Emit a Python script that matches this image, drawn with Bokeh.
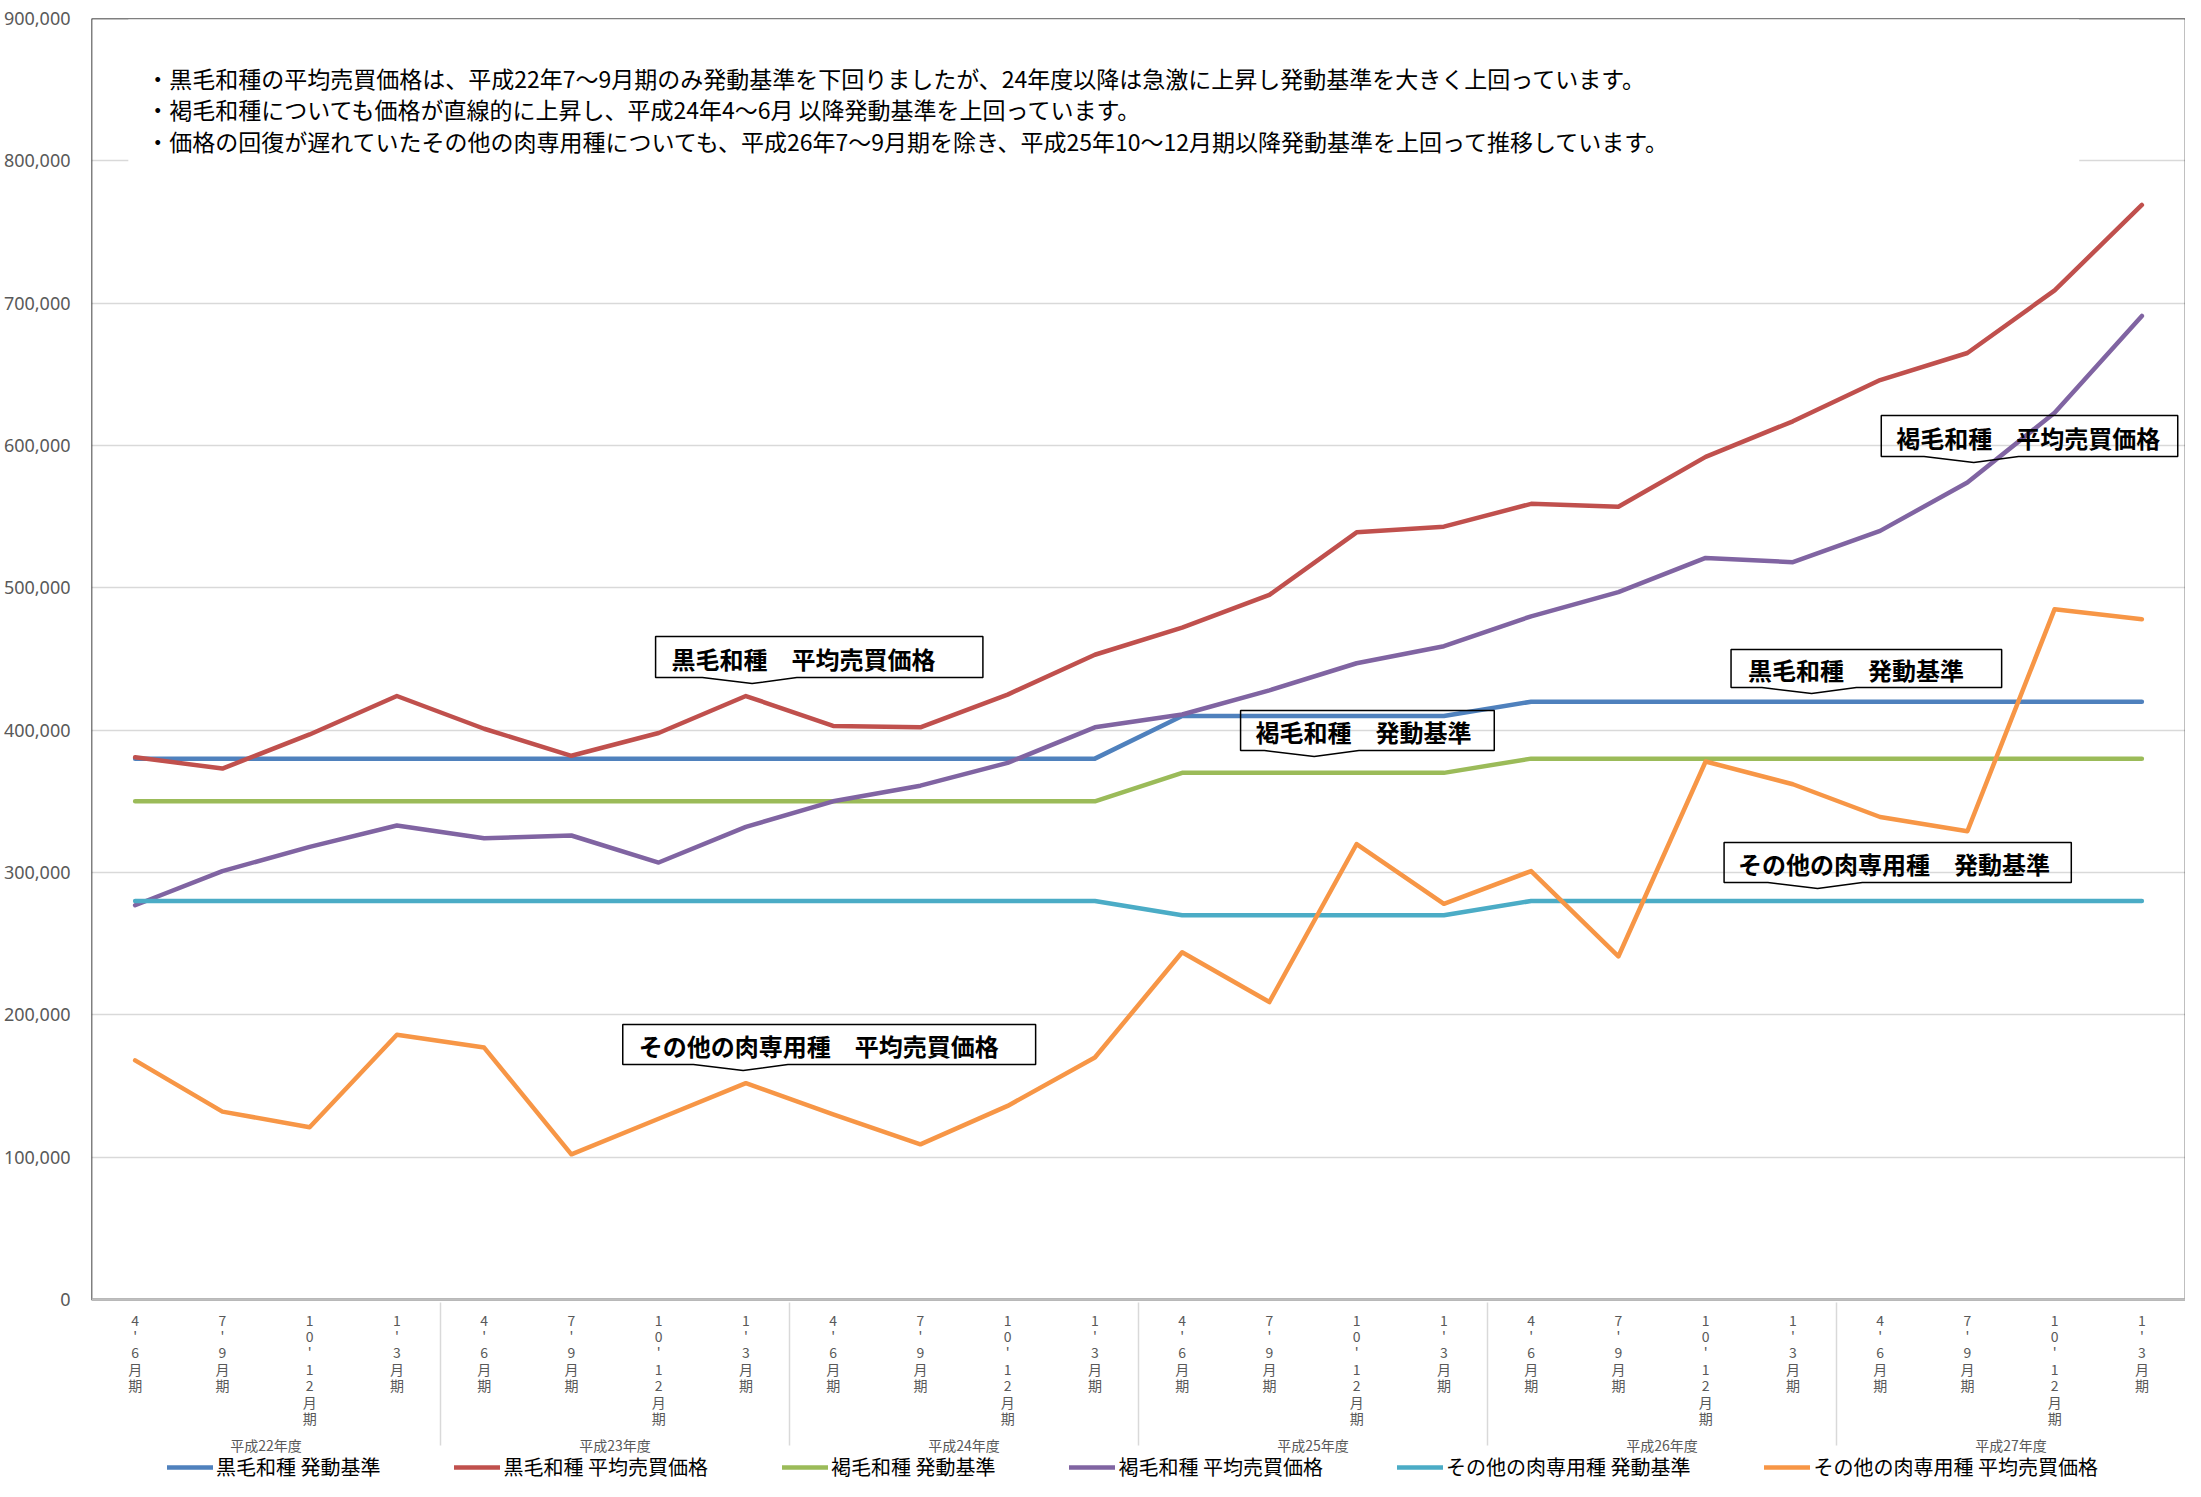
from bokeh.plotting import figure
from bokeh.models import (FactorRange, Range1d, Legend, LegendItem, Label, Span,
                          BoxAnnotation, PolyAnnotation, NumeralTickFormatter,
                          FixedTicker, ColumnDataSource)
from bokeh.embed import file_html
from bokeh.resources import INLINE

# ---------------- data ----------------
years = ["平成22年度", "平成23年度", "平成24年度", "平成25年度", "平成26年度", "平成27年度"]
quarters = ["4\n'\n6\n月\n期", "7\n'\n9\n月\n期", "1\n0\n'\n1\n2\n月\n期", "1\n'\n3\n月\n期"]
y_ticks = [0, 100000, 200000, 300000, 400000, 500000, 600000, 700000, 800000, 900000]

kuroge_kijun = [380000] * 12 + [410000] * 4 + [420000] * 8
kuroge_price = [381000, 373000, 397000, 424000, 401000, 382000, 398000, 424000,
                403000, 402000, 425000, 453000, 472000, 495000, 539000, 543000,
                559000, 557000, 592000, 617000, 646000, 665000, 709000, 769000]
kashige_kijun = [350000] * 12 + [370000] * 4 + [380000] * 8
kashige_price = [277000, 301000, 318000, 333000, 324000, 326000, 307000, 332000,
                 350000, 361000, 377000, 402000, 411000, 428000, 447000, 459000,
                 480000, 497000, 521000, 518000, 540000, 574000, 623000, 691000]
sonota_kijun = [280000] * 12 + [270000] * 4 + [280000] * 8
sonota_price = [168000, 132000, 121000, 186000, 177000, 102000, 127000, 152000,
                130000, 109000, 136000, 170000, 244000, 209000, 320000, 278000,
                301000, 241000, 378000, 362000, 339000, 329000, 485000, 478000]

series_names = ["黒毛和種 発動基準", "黒毛和種 平均売買価格", "褐毛和種 発動基準",
                "褐毛和種 平均売買価格", "その他の肉専用種 発動基準", "その他の肉専用種 平均売買価格"]
series_values = [kuroge_kijun, kuroge_price, kashige_kijun, kashige_price, sonota_kijun, sonota_price]
series_colors = ["#4F81BD", "#C0504D", "#9BBB59", "#8064A2", "#4BACC6", "#F79646"]

notes = [
    "・黒毛和種の平均売買価格は、平成22年7～9月期のみ発動基準を下回りましたが、24年度以降は急激に上昇し発動基準を大きく上回っています。",
    "・褐毛和種についても価格が直線的に上昇し、平成24年4～6月 以降発動基準を上回っています。",
    "・価格の回復が遅れていたその他の肉専用種についても、平成26年7～9月期を除き、平成25年10～12月期以降発動基準を上回って推移しています。",
]

callout_texts = ["黒毛和種　平均売買価格", "黒毛和種　発動基準", "褐毛和種　発動基準",
                 "褐毛和種　平均売買価格", "その他の肉専用種　発動基準", "その他の肉専用種　平均売買価格"]

factors = [(y, q) for y in years for q in quarters]

CJK = "Noto Sans CJK JP"

# layout (pixels): value axis 0 -> y 1299, 900,000 -> y 18; frame extends down to 1481
FIG_H = 1481
TOP_PX, ZERO_PX = 18, 1299
y_top = 900000
y_bottom = -y_top * (FIG_H - ZERO_PX) / (ZERO_PX - TOP_PX)

p = figure(x_range=FactorRange(*factors, factor_padding=0, group_padding=0,
                               subgroup_padding=0, range_padding=0),
           y_range=Range1d(y_bottom, y_top),
           width=2185, height=FIG_H, output_backend="svg", toolbar_location=None,
           min_border_left=85, min_border_top=TOP_PX, min_border_right=0,
           min_border_bottom=0)

p.outline_line_color = None
p.background_fill_color = "white"
p.border_fill_color = "white"

p.xgrid.grid_line_color = None
p.ygrid.grid_line_color = "#D9D9D9"
p.ygrid.grid_line_width = 1.5

p.yaxis.ticker = FixedTicker(ticks=y_ticks)
p.yaxis.formatter = NumeralTickFormatter(format="0,0")
p.yaxis.axis_line_color = None
p.yaxis.major_tick_line_color = None
p.yaxis.minor_tick_line_color = None
p.yaxis.major_label_text_font = "Noto Sans"
p.yaxis.major_label_text_font_size = "18px"
p.yaxis.major_label_text_color = "#595959"
p.yaxis.major_label_standoff = 15

xa = p.xaxis[0]
xa.fixed_location = 0
xa.axis_line_color = "#BFBFBF"
xa.axis_line_width = 2
xa.major_tick_line_color = None
xa.minor_tick_line_color = None
xa.major_label_text_font = CJK
xa.major_label_text_font_size = "14px"
xa.major_label_text_color = "#595959"
xa.major_label_text_line_height = 0.82
xa.major_label_standoff = 4
xa.group_text_font = CJK
xa.group_text_font_size = "14px"
xa.group_text_color = "#595959"
xa.group_text_font_style = "normal"
xa.separator_line_color = "#D9D9D9"
xa.separator_line_width = 1.5

renderers = []
for name, vals, col in zip(series_names, series_values, series_colors):
    src = ColumnDataSource(dict(x=factors, y=vals))
    r = p.line("x", "y", source=src, line_color=col, line_width=4.5,
               line_join="round", line_cap="round")
    renderers.append(r)

# plot-area border (black on three sides, grey axis line at the bottom)
p.add_layout(BoxAnnotation(left=0, right=len(factors), top=y_top, bottom=0,
                           fill_alpha=0, line_color="black", line_alpha=1.0, line_width=1.5))
p.add_layout(Span(location=0, dimension="width", line_color="#BFBFBF", line_width=2.5))

# helpers: reference-pixel layout -> data coordinates
def fx(px):
    return (px - 93) / 87.7

def fy(py):
    return (ZERO_PX - py) * y_top / (ZERO_PX - TOP_PX)

# white text box at top with notes
p.add_layout(BoxAnnotation(left=fx(130), right=fx(2091), top=fy(19), bottom=fy(164),
                           fill_color="white", fill_alpha=1.0, line_color=None))
for t, py in zip(notes, [77, 108, 140]):
    p.add_layout(Label(x=fx(148), y=fy(py), text=t, text_font=CJK, text_font_size="23px",
                       text_color="black", text_baseline="middle", text_align="left"))

# callout boxes (left, right, top, bottom, tail_tip_x, text_x) in reference pixels
callouts = [
    (660, 989, 636, 677, 757, 676),
    (1741, 2013, 649, 687, 1822, 1758),
    (1248, 1503, 710, 750, 1322, 1263),
    (1892, 2190, 415, 456, 1985, 1907),
    (1734, 2083, 842, 882, 1828, 1748),
    (627, 1042, 1024, 1064, 748, 643),
]
for (l, r_, t, b, tip, tx), txt in zip(callouts, callout_texts):
    xs = [fx(l), fx(r_), fx(r_), fx(tip + 45), fx(tip), fx(tip - 50), fx(l)]
    ys = [fy(t), fy(t), fy(b), fy(b), fy(b + 6), fy(b), fy(b)]
    p.add_layout(PolyAnnotation(xs=xs, ys=ys, fill_alpha=0, line_color="black",
                                line_alpha=1.0, line_width=1.5))
    p.add_layout(Label(x=fx(tx), y=fy((t + b) / 2 + 1), text=txt, text_font=CJK,
                       text_font_size="24px", text_font_style="bold",
                       text_color="black", text_baseline="middle", text_align="left"))

legend = Legend(items=[LegendItem(label=n, renderers=[r]) for n, r in zip(series_names, renderers)],
                orientation="horizontal", location=(76, 0),
                label_text_font=CJK, label_text_font_size="20px", label_text_color="black",
                label_height=20, glyph_width=46, glyph_height=18, label_standoff=3, spacing=74,
                border_line_color=None, background_fill_alpha=0, padding=0, margin=0)
p.add_layout(legend)

open("out.html", "w").write(file_html(p, INLINE))
